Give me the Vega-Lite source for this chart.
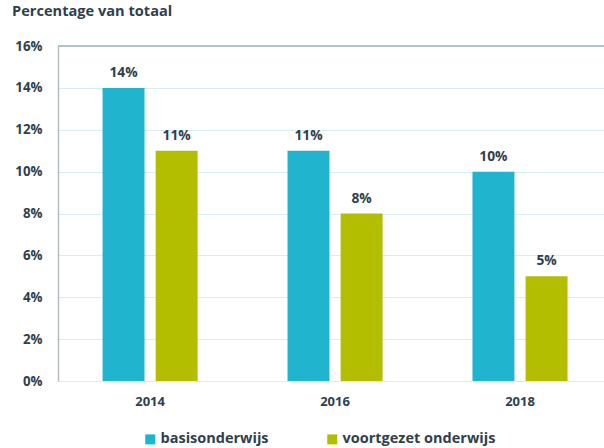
{
  "$schema": "https://vega.github.io/schema/vega-lite/v6.json",
  "autosize": {"type": "none"},
  "width": 546,
  "height": 335,
  "padding": {"left": 58, "top": 46, "right": 0, "bottom": 67},
  "background": "white",
  "title": {
    "text": "Percentage van totaal",
    "anchor": "start",
    "frame": "group",
    "dx": -46,
    "offset": 20,
    "font": "Open Sans",
    "fontSize": 14.6,
    "fontWeight": "bold",
    "color": "#2f3f4c"
  },
  "data": {
    "values": [
      {"jaar": "2014", "type": "basisonderwijs", "pct": 14, "label": "14%"},
      {"jaar": "2014", "type": "voortgezet onderwijs", "pct": 11, "label": "11%"},
      {"jaar": "2016", "type": "basisonderwijs", "pct": 11, "label": "11%"},
      {"jaar": "2016", "type": "voortgezet onderwijs", "pct": 8, "label": "8%"},
      {"jaar": "2018", "type": "basisonderwijs", "pct": 10, "label": "10%"},
      {"jaar": "2018", "type": "voortgezet onderwijs", "pct": 5, "label": "5%"}
    ]
  },
  "config": {
    "view": {"stroke": null},
    "font": "Open Sans"
  },
  "encoding": {
    "x": {
      "field": "jaar",
      "type": "nominal",
      "scale": {"paddingInner": 0.486, "paddingOuter": 0.219, "align": 0.55},
      "axis": {
        "title": null,
        "labelAngle": 0,
        "domain": false,
        "ticks": false,
        "labelFont": "Open Sans",
        "labelFontSize": 13,
        "labelFontWeight": "bold",
        "labelColor": "#2f3f4c",
        "labelPadding": 14
      }
    },
    "xOffset": {
      "field": "type",
      "type": "nominal",
      "scale": {"paddingInner": 0.21, "paddingOuter": 0}
    },
    "y": {
      "field": "pct",
      "type": "quantitative",
      "scale": {"domain": [0, 16]},
      "axis": {
        "title": null,
        "values": [0, 2, 4, 6, 8, 10, 12, 14, 16],
        "labelExpr": "datum.value + '%'",
        "domain": true,
        "domainColor": "#b5bcc2",
        "domainWidth": 1.5,
        "ticks": false,
        "grid": true,
        "gridColor": "#d6eef3",
        "gridWidth": 1,
        "labelFont": "Open Sans",
        "labelFontSize": 13.3,
        "labelFontWeight": "bold",
        "labelColor": "#2f3f4c",
        "labelPadding": 16
      }
    }
  },
  "layer": [
    {
      "mark": {"type": "rule", "color": "#9fb0b8", "strokeWidth": 1.5},
      "data": {"values": [{"v": 16}]},
      "encoding": {
        "y": {"field": "v", "type": "quantitative"},
        "x": null,
        "xOffset": null
      }
    },
    {
      "mark": {"type": "bar"},
      "encoding": {
        "color": {
          "field": "type",
          "type": "nominal",
          "scale": {
            "domain": ["basisonderwijs", "voortgezet onderwijs"],
            "range": ["#21b4cf", "#b4be00"]
          },
          "legend": {
            "title": null,
            "orient": "none",
            "direction": "horizontal",
            "legendX": 85,
            "legendY": 386,
            "symbolType": "square",
            "symbolSize": 100,
            "symbolStrokeWidth": 0,
            "labelFont": "Open Sans",
            "labelFontSize": 14.5,
            "labelFontWeight": "bold",
            "labelColor": "#2f3f4c",
            "labelOffset": 3,
            "columnPadding": 56
          }
        }
      }
    },
    {
      "mark": {
        "type": "text",
        "dy": -15,
        "font": "Open Sans",
        "fontSize": 13.8,
        "fontWeight": "bold",
        "color": "#2f3f4c"
      },
      "encoding": {
        "text": {"field": "label", "type": "nominal"}
      }
    }
  ]
}
